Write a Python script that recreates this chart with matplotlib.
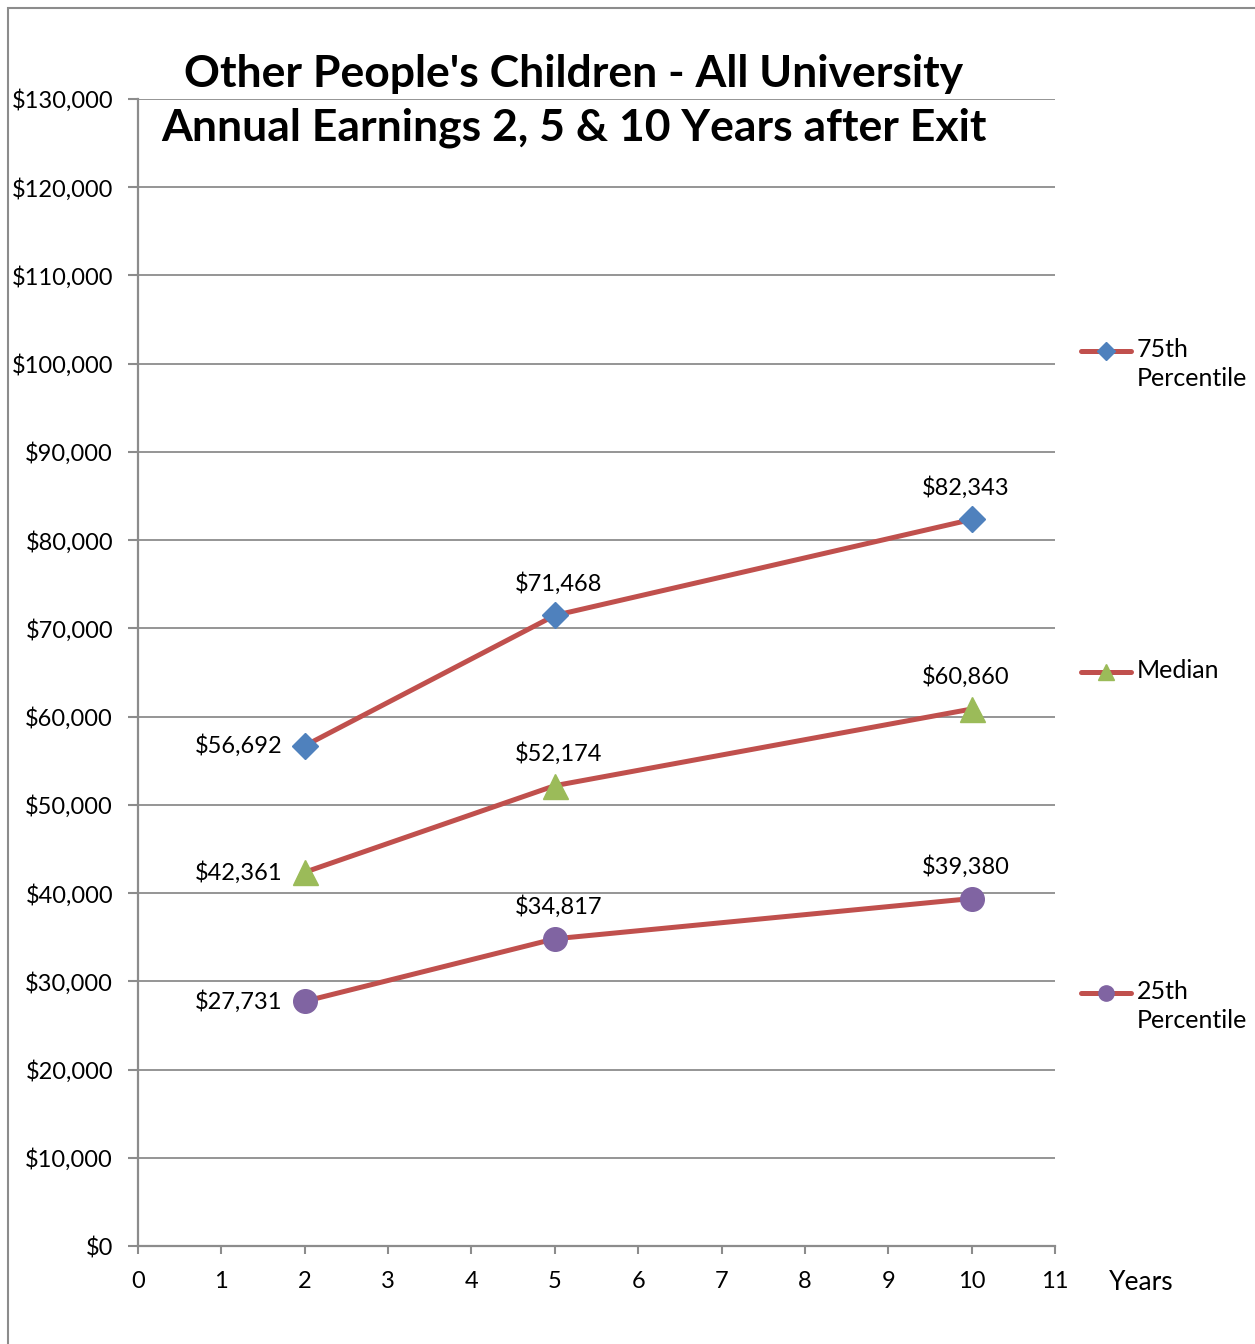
import numpy as np
import matplotlib.pyplot as plt
from matplotlib.lines import Line2D
from matplotlib.patches import Rectangle

plt.rcParams['font.family'] = ['Lato', 'DejaVu Sans']

years = [2, 5, 10]
p75 = [56692, 71468, 82343]
median = [42361, 52174, 60860]
p25 = [27731, 34817, 39380]
series_names = ['75th\nPercentile', 'Median', '25th\nPercentile']
series_values = [p75, median, p25]
markers = ['D', '^', 'o']
marker_sizes = [13, 18, 17]
marker_colors = ['#4F81BD', '#9BBB59', '#8064A2']
line_color = '#C0504D'
grid_color = '#8C8C8C'

fig = plt.figure(figsize=(12.55, 13.44), dpi=100)
W, H = 1255, 1344
ax = fig.add_axes([138 / W, 1 - 1246 / H, (1055 - 138) / W, (1246 - 99) / H])

# outer chart border
fig.patches.append(Rectangle((8 / W, -0.01), 1.1, 1 - 8 / H + 0.01,
                             transform=fig.transFigure, fill=False,
                             edgecolor='#8C8C8C', linewidth=1.5))

for vals, m, ms, mc in zip(series_values, markers, marker_sizes, marker_colors):
    ax.plot(years, vals, color=line_color, linewidth=3.6, zorder=3,
            marker=m, markersize=ms, markerfacecolor=mc, markeredgecolor=mc)
    for i, (x, y) in enumerate(zip(years, vals)):
        txt = '${:,}'.format(y)
        if i == 0:
            ax.annotate(txt, (x, y), xytext=(-16, 0), textcoords='offset points',
                        ha='right', va='center', fontsize=17)
        else:
            ax.annotate(txt, (x, y), xytext=(-4 if i == 2 else 3, 15),
                        textcoords='offset points', ha='center', va='bottom',
                        fontsize=17)

ax.set_xlim(0, 11)
ax.set_ylim(0, 130000)
ax.set_xticks(range(0, 12))
ax.set_yticks(range(0, 130001, 10000))
ax.set_yticklabels(['${:,}'.format(v) for v in range(0, 130001, 10000)])
ax.yaxis.grid(True, color=grid_color, linewidth=1.3)
ax.set_axisbelow(True)
for s in ['top', 'right']:
    ax.spines[s].set_visible(False)
for s in ['left', 'bottom']:
    ax.spines[s].set_color(grid_color)
    ax.spines[s].set_linewidth(1.6)
ax.tick_params(axis='y', length=7, width=1.5, color=grid_color, pad=11, labelsize=17)
ax.tick_params(axis='x', length=6, width=1.5, color=grid_color, pad=12, labelsize=17)

ax.text(1.059, -0.032, 'Years', transform=ax.transAxes, fontsize=19, va='center', ha='left')

fig.text(574 / W, 1 - 101 / H,
         "Other People's Children - All University\nAnnual Earnings 2, 5 & 10 Years after Exit",
         ha='center', va='center', fontsize=32, fontweight='bold', linespacing=1.38)

# legend, drawn at the right side
legend_y = [351, 672, 993]
for name, m, mc, ly in zip(series_names, markers, marker_colors, legend_y):
    yf = 1 - ly / H
    fig.add_artist(Line2D([1081 / W, 1131 / W], [yf, yf], transform=fig.transFigure,
                          color=line_color, linewidth=3.6, solid_capstyle='round'))
    fig.add_artist(Line2D([1106 / W], [yf], transform=fig.transFigure, marker=m,
                          markersize=9 if m == 'D' else 11, markerfacecolor=mc,
                          markeredgecolor=mc, linestyle='none'))
    fig.text(1137 / W, yf + 13 / H, name, ha='left', va='top', fontsize=18,
             linespacing=1.3)

fig.savefig('out.png', dpi=100)
